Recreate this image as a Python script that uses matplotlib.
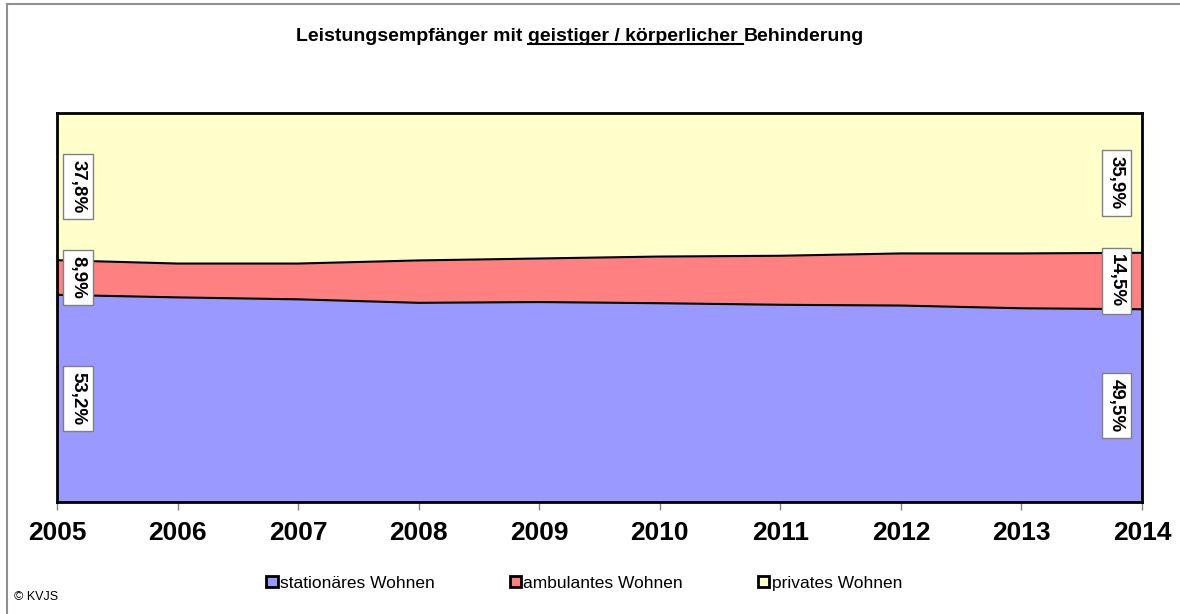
import matplotlib
matplotlib.use('Agg')
import numpy as np
import matplotlib.pyplot as plt
from matplotlib.patches import Patch, Rectangle
from matplotlib.lines import Line2D

plt.rcParams['font.family'] = ['Liberation Sans', 'DejaVu Sans']

# Daten (Anteile in %)
years = [2005, 2006, 2007, 2008, 2009, 2010, 2011, 2012, 2013, 2014]
stationaer = [53.2, 52.6, 52.1, 51.2, 51.4, 51.1, 50.7, 50.5, 49.8, 49.5]
ambulant = [8.9, 8.7, 9.2, 10.9, 11.2, 12.0, 12.6, 13.4, 14.1, 14.5]
privat = [37.8, 38.7, 38.7, 37.9, 37.4, 36.9, 36.7, 36.1, 36.1, 35.9]
series_names = ['stationäres Wohnen', 'ambulantes Wohnen', 'privates Wohnen']
colors = ['#9999ff', '#ff8080', '#ffffcc']

data = np.array([stationaer, ambulant, privat])
share = data / data.sum(axis=0) * 100
cum1 = share[0]
cum2 = share[0] + share[1]

fig = plt.figure(figsize=(11.8, 6.14), dpi=100)
ax = fig.add_axes([57 / 1180, 112 / 614, 1085 / 1180, 389 / 614])

ax.fill_between(years, 0, cum1, color=colors[0], lw=0)
ax.fill_between(years, cum1, cum2, color=colors[1], lw=0)
ax.fill_between(years, cum2, 100, color=colors[2], lw=0)
ax.plot(years, cum1, color='black', lw=1.5)
ax.plot(years, cum2, color='black', lw=1.5)

ax.set_xlim(2005, 2014)
ax.set_ylim(0, 100)
ax.set_yticks([])
ax.set_xticks(years)
ax.set_xticklabels([str(y) for y in years], fontsize=19, fontweight='bold')
ax.tick_params(axis='x', length=6, width=1, color='#808080', pad=8)
for s in ax.spines.values():
    s.set_linewidth(2)
    s.set_color('black')

# Datenbeschriftungen am Anfang und Ende
def fmt(v):
    return f"{v:.1f}".replace('.', ',') + '%'

for col, dx in [(0, 15), (-1, -18.5)]:
    bottoms = [0, cum1[col], cum2[col]]
    tops = [cum1[col], cum2[col], 100]
    for i in range(3):
        mid = (bottoms[i] + tops[i]) / 2
        ax.annotate(fmt(data[i][col]), xy=(years[col], mid), xytext=(dx, 0),
                    textcoords='offset points', rotation=-90,
                    ha='center', va='center', fontsize=13.5, fontweight='bold',
                    bbox=dict(boxstyle='square,pad=0.33', fc='white', ec='#808080', lw=1))

# Legende
handles = [Patch(facecolor=c, edgecolor='black', linewidth=2) for c in colors]
fig.legend(handles, series_names, loc='center', bbox_to_anchor=(0.495, 0.05),
           ncol=3, frameon=False, fontsize=12.5, handlelength=0.65, handleheight=0.65,
           handletextpad=0.15, columnspacing=4.3)

fig.text(14 / 1180, 1 - 597 / 614, '© KVJS', fontsize=9, va='center')

# Rahmen
fig.add_artist(Rectangle((7 / 1180, -0.1), 1.2, 1.1 - 4 / 614, transform=fig.transFigure,
                         fill=False, ec='#909090', lw=1.5, clip_on=False))

# Titel mit Unterstreichung
fs = 14
space = 0.278 * fs
t1 = fig.text(0.25, 1 - 45 / 614, 'Leistungsempfänger mit', fontsize=fs,
              fontweight='bold', ha='left', va='bottom')
t2 = ax.annotate('geistiger / körperlicher', xy=(1, 0), xycoords=t1, xytext=(space, 0),
                 textcoords='offset points', fontsize=fs, fontweight='bold',
                 ha='left', va='bottom', annotation_clip=False)
t3 = ax.annotate('Behinderung', xy=(1, 0), xycoords=t2, xytext=(space, 0),
                 textcoords='offset points', fontsize=fs, fontweight='bold',
                 ha='left', va='bottom', annotation_clip=False)

fig.canvas.draw()
r = fig.canvas.get_renderer()
b1 = t1.get_window_extent(r)
b3 = t3.get_window_extent(r)
total = b3.x1 - b1.x0
W = fig.bbox.width
t1.set_x((580 - total / 2) / W)
fig.canvas.draw()
b2 = t2.get_window_extent(r)
sp = space * fig.dpi / 72
y_ul = b2.y0 + 1
fig.add_artist(Line2D([b2.x0, b2.x1 + sp], [y_ul, y_ul], transform=None, color='black', lw=1.5))

fig.savefig('out.png', dpi=100)
